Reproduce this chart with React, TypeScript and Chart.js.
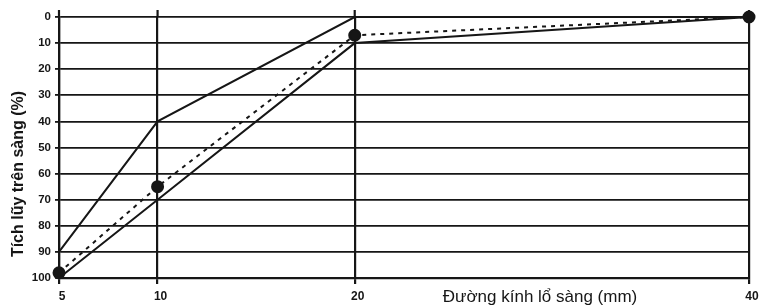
import React, { useEffect, useRef } from "react";
import { Chart, registerables } from "chart.js";

Chart.register(...registerables);

const xTicks = [5, 10, 20, 40];
const yTicks = [0, 10, 20, 30, 40, 50, 60, 70, 80, 90, 100];
const upperX = [5, 10, 20, 40];
const upperY = [90, 40, 0, 0];
const lowerX = [5, 10, 20, 40];
const lowerY = [100, 70, 10, 0];
const sampleX = [5, 10, 20, 40];
const sampleY = [98, 65, 7, 0];
const xTitle = "Đường kính lổ sàng (mm)";
const yTitle = "Tích lũy trên sàng (%)";

const ink = "#161616";

export default function App() {
  const ref = useRef<HTMLCanvasElement | null>(null);
  useEffect(() => {
    if (!ref.current) return;
    const titles = {
      id: "titles",
      afterDraw(chart: any) {
        const ctx = chart.ctx;
        const area = chart.chartArea;
        const xs = chart.scales.x;
        ctx.save();
        ctx.strokeStyle = ink;
        ctx.lineWidth = 2.2;
        xTicks.forEach((v) => {
          const px = xs.getPixelForValue(v);
          ctx.beginPath();
          ctx.moveTo(px, area.top - 7);
          ctx.lineTo(px, area.top);
          ctx.stroke();
        });
        ctx.fillStyle = ink;
        ctx.font = "17px 'Liberation Sans', Arial, sans-serif";
        ctx.textAlign = "center";
        ctx.textBaseline = "middle";
        ctx.fillText(xTitle, 540, 297);
        ctx.translate(19, 174);
        ctx.rotate(-Math.PI / 2);
        ctx.font = "bold 16px 'Liberation Sans', Arial, sans-serif";
        ctx.fillText(yTitle, 0, 0);
        ctx.restore();
      },
    };
    const chart = new Chart(ref.current, {
      type: "line",
      data: {
        datasets: [
          {
            label: "upper",
            data: upperX.map((x, i) => ({ x, y: upperY[i] })),
            borderColor: ink,
            borderWidth: 2,
            pointRadius: 0,
            tension: 0,
            clip: false,
          },
          {
            label: "lower",
            data: lowerX.map((x, i) => ({ x, y: lowerY[i] })),
            borderColor: ink,
            borderWidth: 2,
            pointRadius: 0,
            tension: 0,
            clip: false,
          },
          {
            label: "sample",
            data: sampleX.map((x, i) => ({ x, y: sampleY[i] })),
            borderColor: ink,
            borderWidth: 2,
            borderDash: [4, 5],
            pointRadius: 5.5,
            pointBackgroundColor: ink,
            pointBorderColor: ink,
            tension: 0,
            clip: false,
          },
        ],
      },
      options: {
        responsive: false,
        animation: false,
        layout: { padding: { left: 0, right: 26, top: 17, bottom: 0 } },
        plugins: { legend: { display: false }, tooltip: { enabled: false } },
        scales: {
          x: {
            type: "linear",
            min: 5,
            max: 40,
            afterBuildTicks: (scale: any) => {
              scale.ticks = xTicks.map((v) => ({ value: v }));
            },
            afterFit: (scale: any) => {
              scale.height = 30;
            },
            grid: { color: ink, lineWidth: 2.2, tickLength: 6 },
            border: { color: ink, width: 2.2 },
            ticks: {
              color: ink,
              font: { family: "'Liberation Sans', Arial, sans-serif", size: 12, weight: "bold" },
              maxRotation: 0,
              padding: 5,
              labelOffset: 3,
              callback: (v: any) => String(v),
            },
          },
          y: {
            type: "linear",
            reverse: true,
            min: 0,
            max: 100,
            afterBuildTicks: (scale: any) => {
              scale.ticks = yTicks.map((v) => ({ value: v }));
            },
            afterFit: (scale: any) => {
              scale.width = 59;
            },
            grid: { color: ink, lineWidth: 1.8, tickLength: 4 },
            border: { color: ink, width: 2.2 },
            ticks: {
              color: ink,
              font: { family: "'Liberation Sans', Arial, sans-serif", size: 11.5, weight: "bold" },
              padding: 4,
              callback: (v: any) => String(v),
            },
          },
        },
      },
      plugins: [titles],
    });
    return () => chart.destroy();
  }, []);
  return (
    <div style={{ position: "absolute", left: 0, top: 0, width: 775, height: 308, background: "#fff" }}>
      <canvas ref={ref} width={775} height={308} />
    </div>
  );
}
